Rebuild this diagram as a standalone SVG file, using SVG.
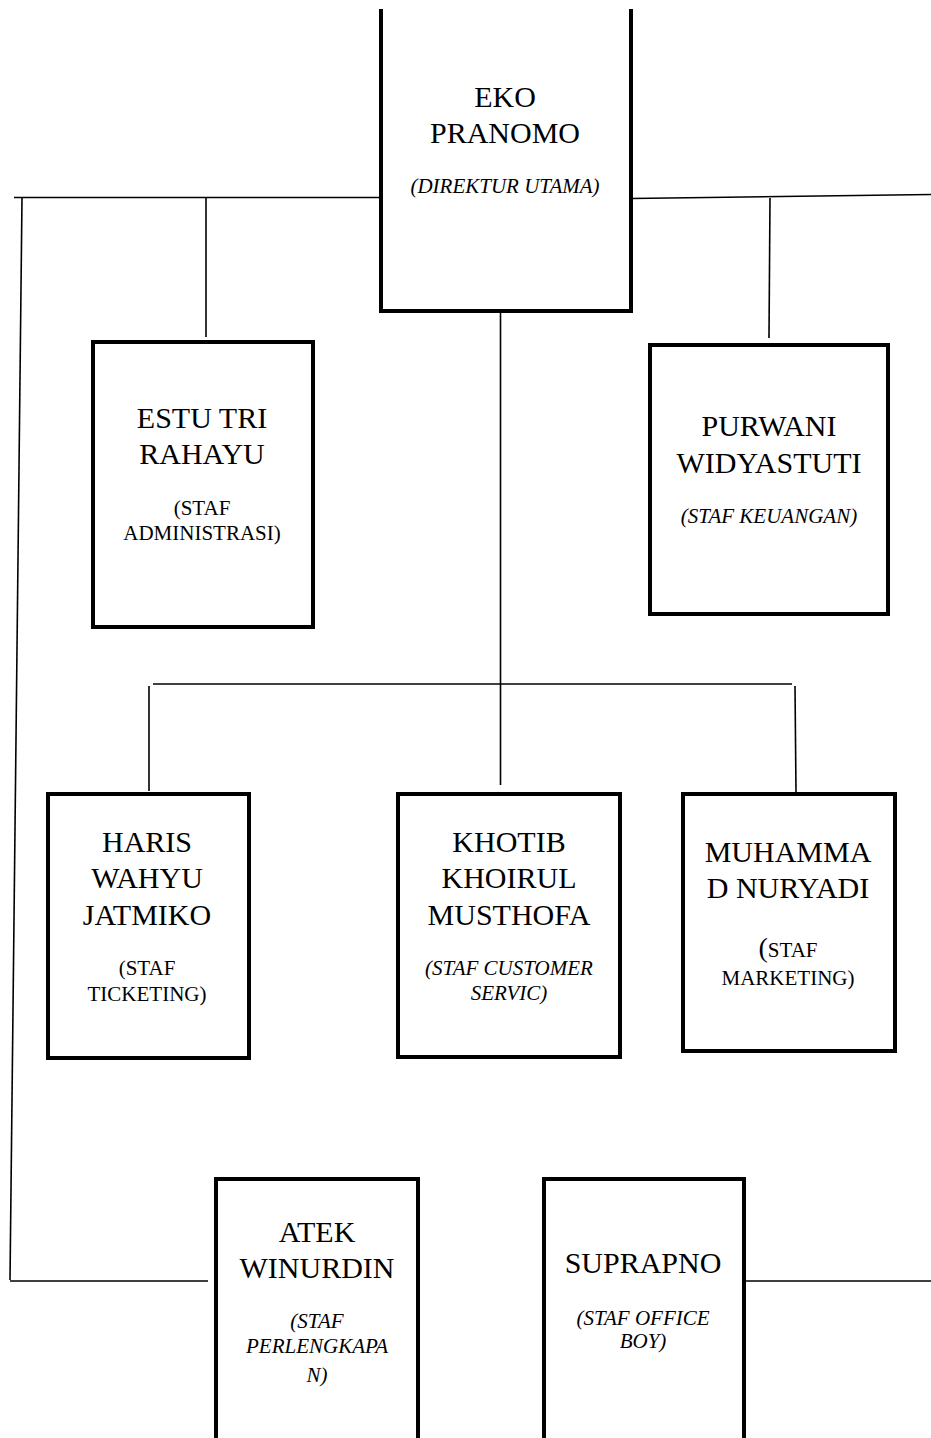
<svg xmlns="http://www.w3.org/2000/svg" width="931" height="1438" viewBox="0 0 931 1438">
<style>
.box{fill:#fff;stroke:#000;stroke-width:4}
.ln{fill:none;stroke:#000;stroke-width:1.6}
.nm{font-size:30px;text-anchor:middle;fill:#000}
.sb{font-size:21px;text-anchor:middle;fill:#000}
.it{font-style:italic}
</style>
<rect width="931" height="1438" fill="#fff"/>
<g id="connectors">
<polyline class="ln" points="14,197.5 381,197.5"/>
<polyline class="ln" points="631,198.5 931,194.5"/>
<polyline class="ln" points="22,198 10,1280"/>
<polyline class="ln" points="10,1281 208,1281"/>
<polyline class="ln" points="206,198 206,337"/>
<polyline class="ln" points="770,198 769,338"/>
<polyline class="ln" points="500.5,313 500.5,785"/>
<polyline class="ln" points="153,684 792,684"/>
<polyline class="ln" points="149,686 149,791"/>
<polyline class="ln" points="795,686 796,792"/>
<polyline class="ln" points="744,1281 931,1281"/>
</g>
<g font-family="'Liberation Serif', 'Times New Roman', serif">
<g id="eko">
<path class="box" d="M381,9 V311 H631 V9"/>
<text class="nm" x="505" y="107">EKO</text>
<text class="nm" x="505" y="143">PRANOMO</text>
<text class="sb it" x="505" y="193">(DIREKTUR UTAMA)</text>
</g>
<g id="estu">
<rect class="box" x="93" y="342" width="220" height="285"/>
<text class="nm" x="202" y="428">ESTU TRI</text>
<text class="nm" x="202" y="464">RAHAYU</text>
<text class="sb" x="202" y="515">(STAF</text>
<text class="sb" x="202" y="540">ADMINISTRASI)</text>
</g>
<g id="purwani">
<rect class="box" x="650" y="345" width="238" height="269"/>
<text class="nm" x="769" y="436">PURWANI</text>
<text class="nm" x="769" y="473">WIDYASTUTI</text>
<text class="sb it" x="769" y="523">(STAF KEUANGAN)</text>
</g>
<g id="haris">
<rect class="box" x="48" y="794" width="201" height="264"/>
<text class="nm" x="147" y="852">HARIS</text>
<text class="nm" x="147" y="888">WAHYU</text>
<text class="nm" x="147" y="925">JATMIKO</text>
<text class="sb" x="147" y="975">(STAF</text>
<text class="sb" x="147" y="1001">TICKETING)</text>
</g>
<g id="khotib">
<rect class="box" x="398" y="794" width="222" height="263"/>
<text class="nm" x="509" y="852">KHOTIB</text>
<text class="nm" x="509" y="888">KHOIRUL</text>
<text class="nm" x="509" y="925">MUSTHOFA</text>
<text class="sb it" x="509" y="975">(STAF CUSTOMER</text>
<text class="sb it" x="509" y="1000">SERVIC)</text>
</g>
<g id="muhammad">
<rect class="box" x="683" y="794" width="212" height="257"/>
<text class="nm" x="788" y="862">MUHAMMA</text>
<text class="nm" x="788" y="898">D NURYADI</text>
<text class="sb" x="788" y="957"><tspan font-size="28px">(</tspan>STAF</text>
<text class="sb" x="788" y="985">MARKETING)</text>
</g>
<g id="atek">
<rect class="box" x="216" y="1179" width="202" height="290"/>
<text class="nm" x="317" y="1242">ATEK</text>
<text class="nm" x="317" y="1278">WINURDIN</text>
<text class="sb it" x="317" y="1328">(STAF</text>
<text class="sb it" x="317" y="1353">PERLENGKAPA</text>
<text class="sb it" x="317" y="1382">N)</text>
</g>
<g id="suprapno">
<rect class="box" x="544" y="1179" width="200" height="290"/>
<text class="nm" x="643" y="1273">SUPRAPNO</text>
<text class="sb it" x="643" y="1325">(STAF OFFICE</text>
<text class="sb it" x="643" y="1348">BOY)</text>
</g>
</g>
</svg>
